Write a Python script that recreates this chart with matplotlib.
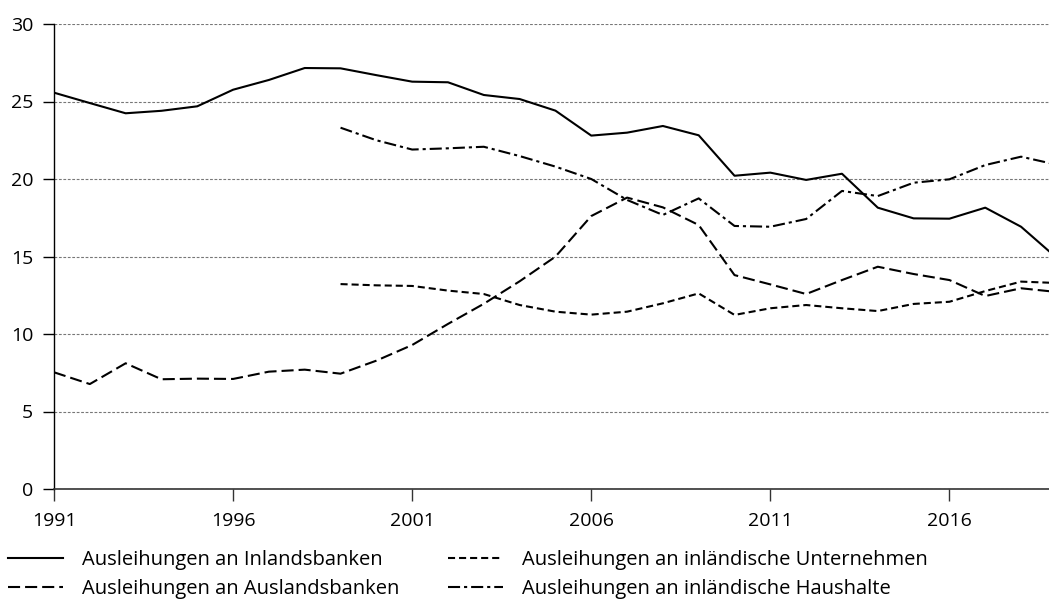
import matplotlib
matplotlib.use("Agg")
import matplotlib.pyplot as plt
import numpy as np

plt.rcParams['font.family'] = ['Open Sans', 'DejaVu Sans']

years = np.arange(1991, 2020)
years_late = np.arange(1999, 2020)

# Ausleihungen an Inlandsbanken (1991-2019)
inlandsbanken = [25.57, 24.9, 24.24, 24.4, 24.69, 25.76, 26.39, 27.16, 27.14, 26.7,
                 26.28, 26.24, 25.42, 25.16, 24.41, 22.8, 22.99, 23.42, 22.82, 20.21,
                 20.41, 19.94, 20.34, 18.15, 17.46, 17.44, 18.15, 16.92, 14.9]
# Ausleihungen an Auslandsbanken (1991-2019)
auslandsbanken = [7.53, 6.77, 8.11, 7.08, 7.12, 7.1, 7.57, 7.7, 7.44, 8.28,
                  9.29, 10.65, 11.95, 13.4, 14.99, 17.61, 18.8, 18.17, 17.03, 13.8,
                  13.2, 12.58, 13.48, 14.34, 13.87, 13.48, 12.45, 12.95, 12.71]
# Ausleihungen an inländische Unternehmen (1999-2019)
unternehmen = [13.22, 13.14, 13.1, 12.8, 12.58, 11.87, 11.44, 11.25, 11.44, 11.98,
               12.62, 11.23, 11.66, 11.87, 11.66, 11.48, 11.94, 12.08, 12.77, 13.38, 13.29]
# Ausleihungen an inländische Haushalte (1999-2019)
haushalte = [23.31, 22.5, 21.9, 21.98, 22.08, 21.48, 20.8, 20.0, 18.65, 17.68,
             18.75, 16.97, 16.92, 17.42, 19.23, 18.9, 19.76, 19.98, 20.9, 21.44, 20.92]

labels = ['Ausleihungen an Inlandsbanken', 'Ausleihungen an Auslandsbanken',
          'Ausleihungen an inländische Unternehmen', 'Ausleihungen an inländische Haushalte']

fig = plt.figure(figsize=(10.49, 6.01), dpi=100)
W, H = 1049, 601
ax = fig.add_axes([54 / W, 1 - 489 / H, 1 - 54 / W, (489 - 24) / H])

lw = 1.5
l1, = ax.plot(years, inlandsbanken, color='black', lw=lw)
l2, = ax.plot(years, auslandsbanken, color='black', lw=lw, dashes=(5.8, 2.4))
l3, = ax.plot(years_late, unternehmen, color='black', lw=lw, dashes=(3.4, 1.9))
l4, = ax.plot(years_late, haushalte, color='black', lw=lw, dashes=(5.8, 1.9, 1.5, 1.9))

ax.set_xlim(1991, 2018.78)
ax.set_ylim(0, 30)
ax.set_yticks(np.arange(0, 31, 5))
ax.set_xticks(np.arange(1991, 2017, 5))
ax.grid(axis='y', color='#777777', lw=0.8, linestyle=(0, (2.5, 1.5)))
ax.set_axisbelow(True)
for s in ['top', 'right']:
    ax.spines[s].set_visible(False)
ax.spines['left'].set_color('black')
ax.spines['bottom'].set_color('#333333')
ax.spines['left'].set_linewidth(1.0)
ax.spines['bottom'].set_linewidth(1.2)
ax.tick_params(axis='y', length=8, width=1.0, pad=7, labelsize=14)
ax.tick_params(axis='x', length=8.5, width=1.0, color='#333333', pad=8, labelsize=14)

# legend entries: (handle, label, handle start x px, row centre y px)
entries = [(l1, labels[0], 8, 560), (l2, labels[1], 8, 589),
           (l3, labels[2], 448, 560), (l4, labels[3], 448, 589)]
for h, lab, x, y in entries:
    fig.legend(handles=[h], labels=[lab], loc='center left',
               bbox_to_anchor=(x / W, 1 - y / H), frameon=False, fontsize=14.5,
               handlelength=2.73, handletextpad=0.95, borderaxespad=0, borderpad=0)

fig.savefig('out.png', dpi=100)
